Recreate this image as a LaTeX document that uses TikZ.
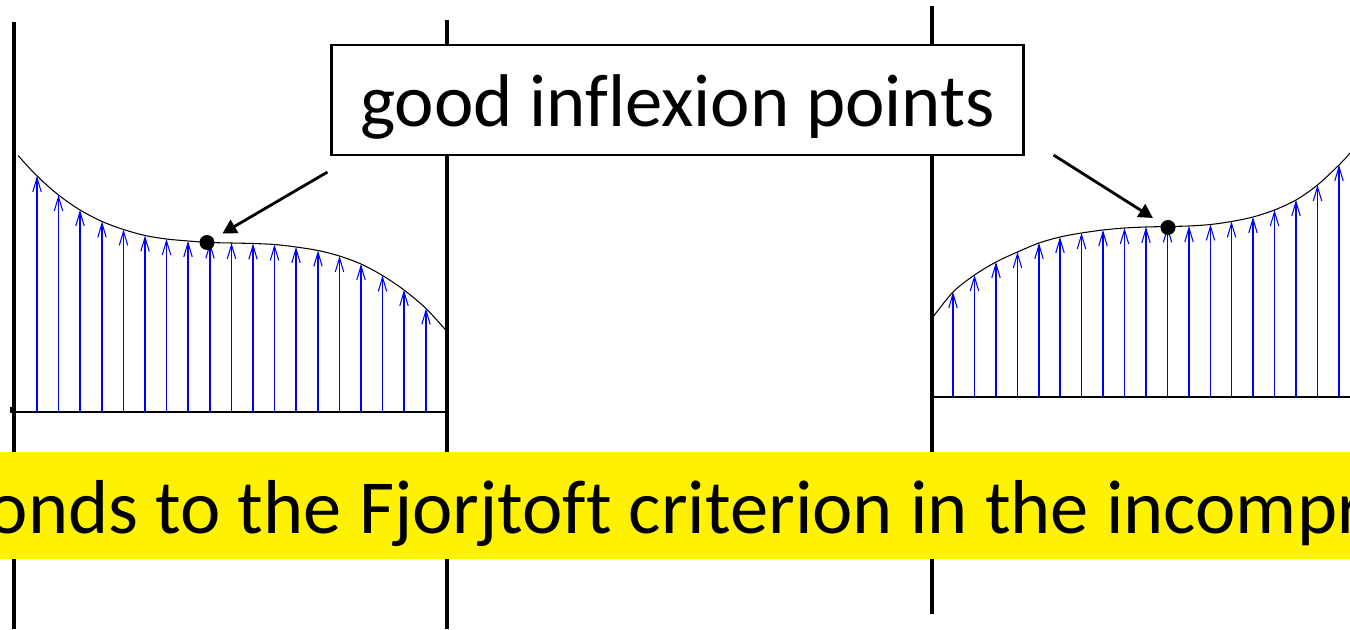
\documentclass[tikz,border=0pt]{standalone}
\usepackage{fontspec}
\setmainfont{Carlito}[Ligatures={NoCommon}]
\usepackage{tikz}
\usetikzlibrary{
  arrows.meta,
  calc
}

\begin{document}
\begin{tikzpicture}[
  wall/.style={line width=1.8pt},
  flow/.style={-{Straight Barb[length=8pt,width=4.8pt]}, blue, line width=0.6pt},
  profile/.style={line width=0.6pt},
  dot/.style={circle, fill, inner sep=0pt, minimum size=0.3cm},
  pointer/.style={-{Triangle[length=8pt,width=8.5pt]}, line width=1.6pt,
                  shorten >=0.2cm},
  tagbox/.style={draw, fill=white, line width=1.2pt, minimum width=13.84cm,
                 inner ysep=0pt, text height=1.64cm, text depth=0.56cm,
                 font=\fontsize{42.5}{50}\selectfont},
  band/.style={fill=yellow, inner xsep=0.8cm, inner ysep=0pt,
               text height=1.62cm, text depth=0.52cm,
               font=\fontsize{43.5}{50}\selectfont},
]
  \useasboundingbox (0,0) rectangle (27,12.58);

  % walls
  \draw[wall] (0.28,0) -- (0.28,12.14);
  \draw[wall] (8.94,0) -- (8.94,12.18);
  \draw[wall] (18.64,0.3) -- (18.64,12.46);

  % left profile
  \draw[profile] (0.2,4.34) -- (8.94,4.34);
  \draw[profile] (0.22,4.34) -- (0.22,4.45);
  \foreach \x/\y in {0.74/9.06, 1.17/8.68, 1.60/8.38, 2.04/8.15, 2.47/7.99,
                     2.90/7.87, 3.33/7.80, 3.76/7.76, 4.20/7.73, 4.63/7.72,
                     5.06/7.71, 5.49/7.69, 5.92/7.64, 6.36/7.57, 6.79/7.46,
                     7.22/7.30, 7.65/7.07, 8.08/6.78, 8.52/6.41} {
    \draw[flow] (\x,4.34) -- (\x,\y);
  }
  \draw[profile] plot[smooth] coordinates {(0.36,9.47) (0.74,9.06) (1.17,8.68)
    (1.60,8.38) (2.04,8.15) (2.47,7.99) (2.90,7.87) (3.33,7.80) (3.76,7.76)
    (4.20,7.73) (4.63,7.72) (5.06,7.71) (5.49,7.69) (5.92,7.64) (6.36,7.57)
    (6.79,7.46) (7.22,7.30) (7.65,7.07) (8.08,6.78) (8.52,6.41) (8.94,5.95)};
  \node[dot] (inflL) at (4.14,7.73) {};

  % right profile
  \draw[profile] (18.66,4.64) -- (27.2,4.64);
  \foreach \x/\y in {19.06/6.74, 19.49/7.08, 19.92/7.34, 20.35/7.54, 20.78/7.72,
                     21.20/7.84, 21.63/7.92, 22.06/7.98, 22.49/8.02, 22.92/8.04,
                     23.35/8.05, 23.78/8.06, 24.21/8.09, 24.63/8.15, 25.06/8.24,
                     25.49/8.38, 25.92/8.58, 26.35/8.88, 26.78/9.28} {
    \draw[flow] (\x,4.64) -- (\x,\y);
  }
  \draw[profile] plot[smooth] coordinates {(18.66,6.24) (19.06,6.74)
    (19.49,7.08) (19.92,7.34) (20.35,7.54) (20.78,7.72) (21.20,7.84)
    (21.63,7.92) (22.06,7.98) (22.49,8.02) (22.92,8.04) (23.35,8.05)
    (23.78,8.06) (24.21,8.09) (24.63,8.15) (25.06,8.24) (25.49,8.38)
    (25.92,8.58) (26.35,8.88) (26.78,9.28) (27.0,9.52) (27.2,9.78)};
  \node[dot] (inflR) at (23.36,8.03) {};

  % label and pointers
  \node[tagbox] (good) at (13.55,10.58) {good inflexion points};
  \draw[pointer] ($(good.south west)+(-0.06,-0.32)$) -- (inflL);
  \draw[pointer] ($(good.south east)+(0.58,0.02)$) -- (inflR);

  % highlighted sentence
  \node[band, anchor=base west] (fjortoft) at (-1.05,1.92)
    {onds to the Fjorjtoft criterion in the incompr};
\end{tikzpicture}
\end{document}
